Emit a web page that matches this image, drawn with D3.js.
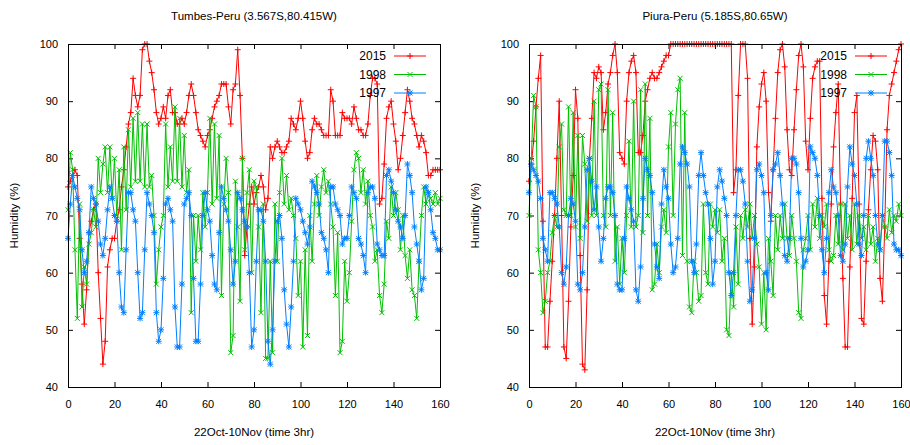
<!DOCTYPE html>
<html>
<head>
<meta charset="utf-8">
<script src="https://cdn.jsdelivr.net/npm/d3@7"></script>
<style>
  body { margin: 0; background: #fff; }
  text { font-family: "Liberation Sans", Arial, sans-serif; fill: #000; }
</style>
</head>
<body>
<div id="chart"></div>
<script>
// Tick labels and legend names
const xTicks = [0, 20, 40, 60, 80, 100, 120, 140, 160];
const yTicks = [40, 50, 60, 70, 80, 90, 100];
const seriesNames = ["2015", "1998", "1997"];

// Relative humidity, one value every 3 hours (22 Oct - 10 Nov)
const tumbes2015 = [
  75,76,77,78,77,66,58,51,57,67,
  69,71,72,60,52,44,48,61,64,66,
  66,69,71,75,78,82,86,88,94,91,
  89,91,99,100,100,97,95,92,88,86,
  87,89,87,91,92,88,88,86,86,87,
  86,88,91,93,91,88,85,84,83,82,
  84,85,87,89,90,91,93,93,93,89,
  86,92,93,99,91,80,63,68,72,75,
  72,74,75,77,75,71,73,82,80,82,
  83,82,81,81,82,83,87,86,85,87,
  90,87,83,80,81,85,87,86,86,85,
  84,84,84,92,90,84,84,84,88,87,
  87,87,86,89,87,85,85,84,84,86,
  91,94,94,93,72,73,79,87,89,90,
  86,83,78,80,84,88,92,90,87,86,
  84,82,84,83,81,77,77,78,78,78,
  78
];
const tumbes1998 = [
  71,81,78,64,52,72,54,61,58,65,
  67,71,68,80,74,79,82,74,82,73,
  80,70,78,64,82,71,85,75,87,76,
  88,76,86,75,86,75,77,70,58,64,
  68,70,86,75,82,76,89,76,87,75,
  84,74,78,53,70,62,70,64,74,68,
  74,87,72,86,73,84,56,72,80,74,
  46,49,76,68,55,80,64,74,78,60,
  76,75,68,53,72,45,45,62,46,72,
  62,74,80,72,77,71,73,70,66,56,
  62,47,64,49,70,62,72,77,70,75,
  78,74,76,72,68,56,67,46,48,62,
  55,60,69,78,81,80,74,78,72,76,
  70,68,62,64,56,53,58,69,66,75,
  70,74,71,64,70,63,59,64,57,56,
  52,62,70,75,72,74,73,72,74,72,
  73
];
const tumbes1997 = [
  66,72,77,75,73,71,64,60,62,67,
  75,73,72,69,65,63,66,71,75,73,
  70,69,60,54,53,64,74,74,71,69,
  60,52,53,64,74,72,70,67,53,48,
  50,59,72,73,71,69,54,47,47,58,
  72,73,74,70,59,48,48,58,70,74,
  71,69,63,58,57,67,75,73,71,69,
  64,58,62,74,73,71,69,68,60,47,
  50,62,71,71,69,62,48,44,50,62,
  69,70,66,57,51,47,54,62,73,72,
  71,69,67,65,68,76,75,74,72,67,
  66,64,60,75,75,72,71,70,65,66,
  66,70,75,74,73,66,65,63,60,74,
  75,75,73,65,64,63,63,77,78,76,
  74,71,69,68,66,70,79,77,74,68,
  65,62,57,59,75,74,71,67,66,64,
  64
];
const piura2015 = [
  76,79,83,89,94,98,69,47,47,55,
  62,70,80,90,70,47,45,55,68,77,
  92,87,63,44,43,57,80,87,95,94,
  96,95,85,88,93,95,98,100,95,81,
  80,79,90,95,97,98,95,81,81,84,
  90,92,94,95,94,94,95,96,97,98,
  98,100,100,100,100,100,100,100,100,100,
  100,100,100,100,100,100,100,100,100,100,
  100,100,100,100,100,100,100,100,74,78,
  91,100,100,100,94,66,51,61,82,89,
  93,95,90,74,69,78,87,95,99,100,
  96,85,78,77,85,92,98,100,96,83,
  78,87,94,96,97,97,73,56,51,62,
  72,82,88,93,72,59,47,47,61,73,
  88,91,72,52,51,62,71,78,84,83,
  78,59,55,68,85,91,93,95,97,99,
  100
];
const piura1998 = [
  70,80,91,89,64,60,53,55,60,62,
  67,70,68,82,86,71,70,89,70,88,
  68,84,66,84,79,69,80,70,90,70,
  92,93,70,68,92,70,88,62,68,58,
  66,60,70,83,68,90,68,70,92,67,
  93,70,87,57,58,65,60,68,71,67,
  82,88,70,86,92,94,63,88,62,54,
  53,62,60,55,56,72,60,58,72,68,
  71,67,71,62,66,50,49,60,54,68,
  58,70,66,71,68,72,66,70,65,61,
  51,60,50,66,62,56,70,64,70,66,
  72,66,63,70,66,62,53,52,64,66,
  70,64,72,68,73,66,70,68,72,64,
  62,63,70,65,72,64,72,66,70,64,
  72,65,70,66,68,64,70,65,68,62,
  66,64,70,68,66,71,67,70,69,72,
  70
];
const piura1997 = [
  74,79,78,77,76,73,66,64,62,74,
  74,73,72,68,60,58,61,70,73,72,
  69,58,57,60,68,78,80,76,71,75,
  68,62,66,73,75,75,74,70,58,57,
  57,66,75,73,71,69,57,55,61,73,
  80,78,77,74,65,61,59,72,78,75,
  73,65,60,61,66,79,82,81,79,75,
  62,60,65,77,81,77,74,72,66,58,
  62,75,78,76,73,70,60,56,60,70,
  78,78,76,72,62,55,57,66,78,79,
  77,74,60,57,70,78,79,81,77,72,
  63,62,66,80,80,79,74,66,61,62,
  64,82,81,80,77,70,64,60,66,74,
  78,75,74,70,63,62,65,75,82,79,
  77,72,65,63,70,80,83,80,77,70,
  65,64,70,83,83,81,77,65,64,64,
  63
];

const width = 910, height = 445;
const colors = ["#ff0000", "#00c000", "#0080ff"];
const symbols = ["plus", "cross", "star"];

const panels = [
  { title: "Tumbes-Peru (3.567S,80.415W)", left: 68, right: 440, series: [tumbes2015, tumbes1998, tumbes1997] },
  { title: "Piura-Peru (5.185S,80.65W)", left: 529, right: 901, series: [piura2015, piura1998, piura1997] }
];
const plotTop = 44, plotBottom = 387;
const fontSize = "11px";

const svg = d3.select("#chart").append("svg")
    .attr("width", width)
    .attr("height", height);

// point symbols like gnuplot's +, x and *
function markerPath(type) {
  const a = 3, b = 2.5;
  const plus = `M${-a},0H${a}M0,${-a}V${a}`;
  const cross = `M${-b},${-b}L${b},${b}M${-b},${b}L${b},${-b}`;
  if (type === "plus") return plus;
  if (type === "cross") return cross;
  return plus + cross;
}

panels.forEach(p => {
  const x = d3.scaleLinear().domain([0, 160]).range([p.left, p.right]);
  const y = d3.scaleLinear().domain([40, 100]).range([plotBottom, plotTop]);
  const g = svg.append("g");

  // axes with inward ticks on all four sides
  g.append("g")
      .attr("transform", `translate(0,${plotBottom})`)
      .call(d3.axisBottom(x).tickValues(xTicks).tickSizeInner(-5).tickSizeOuter(0).tickPadding(13))
      .call(a => a.select(".domain").remove());
  g.append("g")
      .attr("transform", `translate(0,${plotTop})`)
      .call(d3.axisTop(x).tickValues(xTicks).tickSizeInner(-5).tickSizeOuter(0).tickFormat(""))
      .call(a => a.select(".domain").remove());
  g.append("g")
      .attr("transform", `translate(${p.left},0)`)
      .call(d3.axisLeft(y).tickValues(yTicks).tickSizeInner(-5).tickSizeOuter(0).tickPadding(10))
      .call(a => a.select(".domain").remove());
  g.append("g")
      .attr("transform", `translate(${p.right},0)`)
      .call(d3.axisRight(y).tickValues(yTicks).tickSizeInner(-5).tickSizeOuter(0).tickFormat(""))
      .call(a => a.select(".domain").remove());

  g.selectAll("g").attr("font-family", null).attr("font-size", null);
  g.selectAll(".tick text").style("font-size", fontSize);

  // series lines and markers
  p.series.forEach((values, k) => {
    const line = d3.line()
        .x((d, i) => x(i))
        .y(d => y(d));
    g.append("path")
        .datum(values)
        .attr("fill", "none")
        .attr("stroke", colors[k])
        .attr("stroke-width", 1)
        .attr("d", line);
    g.append("g")
        .selectAll("path")
        .data(values)
        .join("path")
        .attr("transform", (d, i) => `translate(${x(i)},${y(d)})`)
        .attr("d", markerPath(symbols[k]))
        .attr("stroke", colors[k])
        .attr("stroke-width", 1)
        .attr("fill", "none");
  });

  // frame
  g.append("rect")
      .attr("x", p.left + 0.5)
      .attr("y", plotTop + 0.5)
      .attr("width", p.right - p.left)
      .attr("height", plotBottom - plotTop)
      .attr("fill", "none")
      .attr("stroke", "#000")
      .attr("stroke-width", 1);

  // legend
  const legend = g.selectAll(".legend")
      .data(seriesNames)
      .join("g")
      .attr("transform", (d, i) => `translate(${p.right},${56 + i * 18.5})`);
  legend.append("text")
      .attr("x", -54)
      .attr("dy", "0.35em")
      .attr("text-anchor", "end")
      .style("font-size", "12px")
      .text(d => d);
  legend.append("line")
      .attr("x1", -46).attr("x2", -14)
      .attr("stroke", (d, i) => colors[i])
      .attr("stroke-width", 1);
  legend.append("path")
      .attr("transform", "translate(-30,0)")
      .attr("d", (d, i) => markerPath(symbols[i]))
      .attr("stroke", (d, i) => colors[i])
      .attr("fill", "none");

  // titles and axis labels
  const cx = (p.left + p.right) / 2;
  g.append("text")
      .attr("x", cx).attr("y", 20)
      .attr("text-anchor", "middle")
      .style("font-size", "11.5px")
      .text(p.title);
  g.append("text")
      .attr("x", cx).attr("y", 436)
      .attr("text-anchor", "middle")
      .style("font-size", "11.5px")
      .text("22Oct-10Nov (time 3hr)");
  g.append("text")
      .attr("transform", `translate(${p.left - 50},${(plotTop + plotBottom) / 2}) rotate(-90)`)
      .attr("text-anchor", "middle")
      .style("font-size", "11.5px")
      .text("Humidity (%)");
});
</script>
</body>
</html>
